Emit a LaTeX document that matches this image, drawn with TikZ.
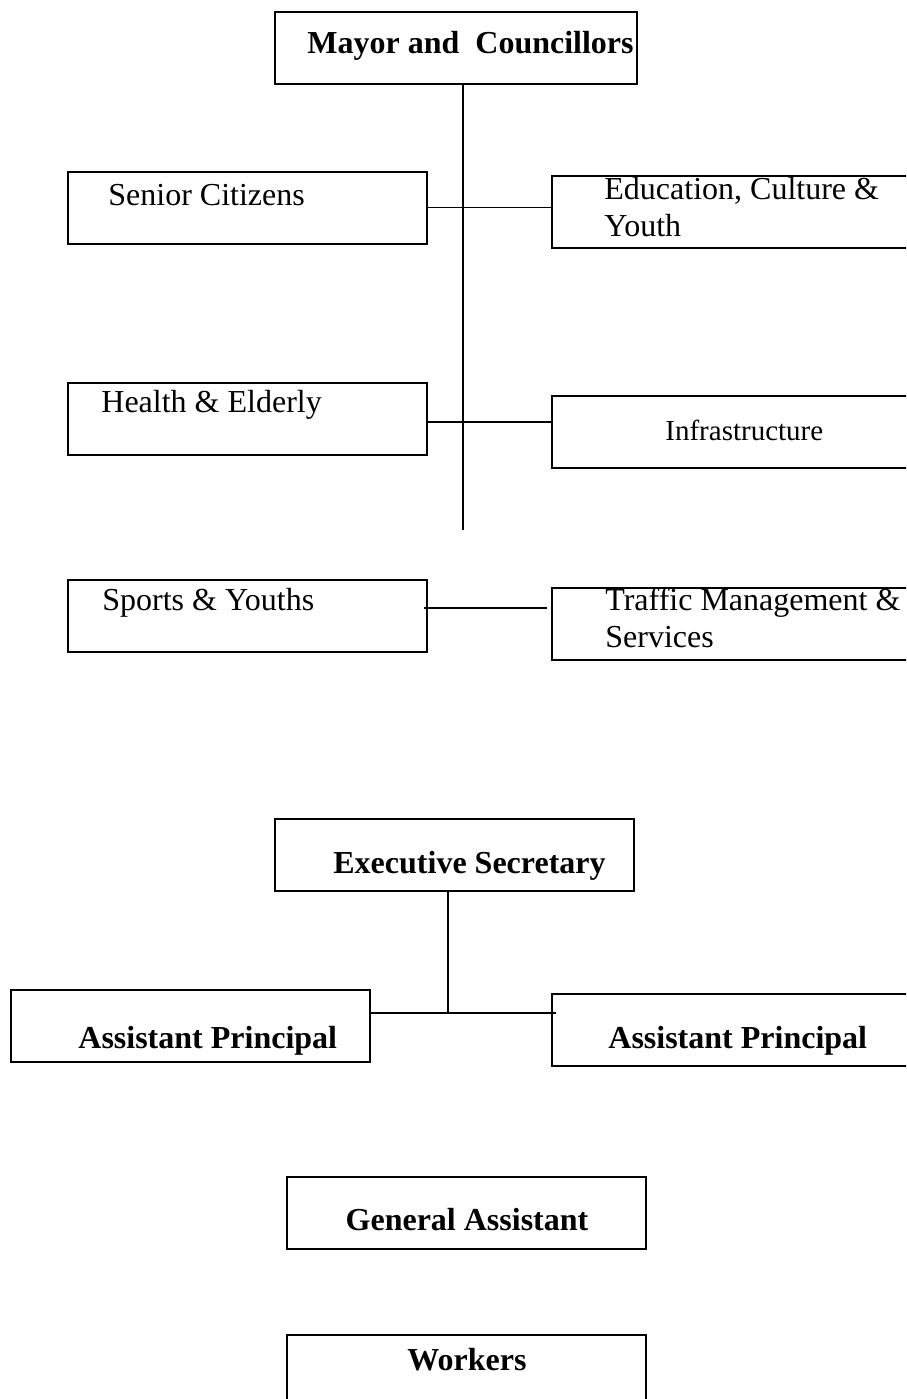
\documentclass[tikz,border=0pt]{standalone}
\usepackage{fontspec}
\setmainfont{Liberation Serif}
\usepackage{tikz}

\tikzset{
	unit/.style={draw, line width=1pt, inner sep=0pt, minimum width=179.5pt, minimum height=36pt},
	wide/.style={unit, minimum width=184pt},
	txt/.style={inner sep=0pt, anchor=base west, font=\fontsize{16}{18.5}\selectfont},
	head/.style={txt, font=\fontsize{16}{18.5}\selectfont\bfseries},
	link/.style={line width=0.8pt}
}

\begin{document}
\begin{tikzpicture}[x=0.5pt, y=-0.5pt]
	\useasboundingbox (0,0) rectangle (906,1399);
	\clip (0,0) rectangle (906,1399);

	\node[unit, minimum width=181pt] (mayor) at (456,48) {};
	\node[unit] (senior) at (247.5,207.5) {};
	\node[wide] (edu) at (736,212) {};
	\node[unit] (health) at (247.5,419) {};
	\node[wide] (infra) at (736,431.5) {};
	\node[unit] (sports) at (247.5,616) {};
	\node[wide] (traffic) at (736,623.5) {};

	\node[unit] (exec) at (454,855) {};
	\node[unit] (apleft) at (190.5,1026) {};
	\node[wide] (apright) at (736,1030) {};
	\node[unit] (general) at (466.5,1213) {};
	\node[unit, minimum height=37.5pt] (workers) at (466.5,1372.5) {};

	\node[head] (mayorlbl) at (307,53) {Mayor and \ Councillors};
	\node[txt] (seniorlbl) at (108,205) {Senior Citizens};
	\node[txt, anchor=north west, align=left] (edulbl) at (604,177) {Education, Culture \&\\Youth};
	\node[txt] (healthlbl) at (101,412) {Health \& Elderly};
	\node[txt, font=\fontsize{14.5}{17}\selectfont] (infralbl) at (665,440) {Infrastructure};
	\node[txt] (sportslbl) at (102,610) {Sports \& Youths};
	\node[txt, anchor=north west, align=left] (trafficlbl) at (605,588) {Traffic Management \&\\Services};
	\node[head] (execlbl) at (333,873) {Executive Secretary};
	\node[head] (apleftlbl) at (78,1048) {Assistant Principal};
	\node[head] (aprightlbl) at (608,1048) {Assistant Principal};
	\node[head, anchor=base] (generallbl) at (467,1230) {General Assistant};
	\node[head, anchor=base] (workerslbl) at (467,1370) {Workers};

	\coordinate (trunkend) at (463,530);
	\draw[link] (mayor.south -| trunkend) -- (trunkend);
	\draw[link] (senior.east) -- (senior.east -| edu.west);
	\draw[link] ([yshift=-1.5pt]health.east) -- ([yshift=-1.5pt]health.east -| infra.west);
	\draw[link] ([shift={(-4,-8)}]sports.east) -- ([shift={(-4,-15.5)}]traffic.west);

	\coordinate (apjoin) at (448,1013);
	\draw[link] (exec.south -| apjoin) -- (apjoin);
	\draw[link] (apleft.east |- apjoin) -- ([xshift=2.5pt]apright.west |- apjoin);
\end{tikzpicture}
\end{document}
